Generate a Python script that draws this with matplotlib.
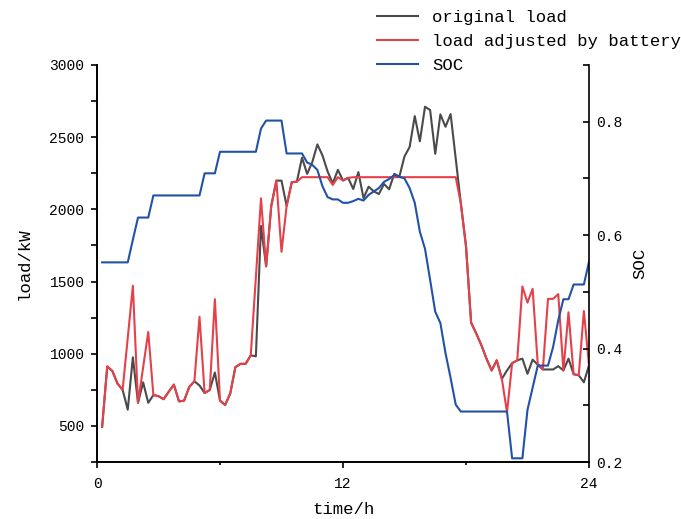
import numpy as np
import matplotlib
matplotlib.use("Agg")
import matplotlib.pyplot as plt
from matplotlib.ticker import MultipleLocator

# quarter-hour samples, 0.25 h ... 24 h
hours = np.arange(1, 97) * 0.25

original_load = [
    493, 912, 880, 793,
    750, 612, 975, 660,
    802, 660, 714, 706,
    685, 737, 786, 670,
    675, 770, 809, 780,
    728, 749, 870, 675,
    645, 725, 907, 930,
    930, 989, 982, 1885,
    1605, 2024, 2199, 2199,
    2024, 2188, 2192, 2358,
    2246, 2327, 2450, 2373,
    2262, 2180, 2274, 2200,
    2218, 2141, 2258, 2078,
    2157, 2125, 2106, 2176,
    2139, 2246, 2227, 2367,
    2432, 2646, 2471, 2711,
    2688, 2385, 2658, 2572,
    2660, 2350, 2040, 1745,
    1215, 1140, 1059, 966,
    884, 954, 826, 884,
    935, 954, 966, 861,
    959, 924, 891, 891,
    891, 914, 884, 966,
    858, 851, 802, 920,
]

adjusted_load = [
    493, 912, 880, 793,
    750, 1110, 1471, 660,
    905, 1151, 714, 706,
    685, 737, 786, 670,
    675, 770, 809, 1256,
    728, 749, 1378, 675,
    645, 725, 907, 930,
    930, 989, 1530, 2076,
    1605, 2024, 2199, 1706,
    2024, 2188, 2192, 2223,
    2223, 2223, 2223, 2223,
    2223, 2169, 2223, 2200,
    2218, 2223, 2223, 2223,
    2223, 2223, 2223, 2223,
    2223, 2223, 2223, 2223,
    2223, 2223, 2223, 2223,
    2223, 2223, 2223, 2223,
    2223, 2223, 2040, 1745,
    1215, 1140, 1059, 966,
    884, 954, 826, 593,
    935, 954, 1466, 1354,
    1450, 930, 891, 1380,
    1380, 1413, 884, 1287,
    858, 851, 1296, 920,
]

soc = [
    0.552, 0.552, 0.552, 0.552,
    0.552, 0.552, 0.592, 0.631,
    0.631, 0.631, 0.670, 0.670,
    0.670, 0.670, 0.670, 0.670,
    0.670, 0.670, 0.670, 0.670,
    0.709, 0.709, 0.709, 0.747,
    0.747, 0.747, 0.747, 0.747,
    0.747, 0.747, 0.747, 0.788,
    0.802, 0.802, 0.802, 0.802,
    0.744, 0.744, 0.744, 0.744,
    0.728, 0.724, 0.715, 0.686,
    0.667, 0.663, 0.663, 0.657,
    0.657, 0.660, 0.664, 0.661,
    0.671, 0.677, 0.683, 0.694,
    0.699, 0.706, 0.703, 0.700,
    0.683, 0.657, 0.606, 0.576,
    0.521, 0.465, 0.445, 0.392,
    0.348, 0.301, 0.289, 0.289,
    0.289, 0.289, 0.289, 0.289,
    0.289, 0.289, 0.289, 0.289,
    0.2065, 0.2065, 0.2065, 0.292,
    0.331, 0.370, 0.370, 0.370,
    0.403, 0.450, 0.487, 0.487,
    0.513, 0.513, 0.513, 0.553,
]

plt.rcParams["font.family"] = ["Liberation Mono", "DejaVu Sans Mono"]

fig = plt.figure(figsize=(6.81, 5.19), dpi=100)
ax = fig.add_axes([97 / 681, 1 - 462 / 519, (589 - 97) / 681, (462 - 65) / 519])
ax2 = ax.twinx()

l1, = ax.plot(hours, original_load, color="#4a4a4a", lw=1.5, label="original load")
l2, = ax.plot(hours, adjusted_load, color="#e5414b", lw=1.5, label="load adjusted by battery")
l3, = ax2.plot(hours, soc, color="#2152a8", lw=1.5, label="SOC")

ax.set_xlim(0, 24)
ax.set_ylim(250, 3000)
ax2.set_ylim(0.2, 0.9)

ax.set_xticks([0, 12, 24])
ax.xaxis.set_minor_locator(MultipleLocator(6))
ax.yaxis.set_major_locator(MultipleLocator(500))
ax.yaxis.set_minor_locator(MultipleLocator(250))
ax2.yaxis.set_major_locator(MultipleLocator(0.2))
ax2.yaxis.set_minor_locator(MultipleLocator(0.1))
ax2.set_yticks([0.2, 0.4, 0.6, 0.8])

for a in (ax, ax2):
    a.spines["top"].set_visible(False)
    for s in a.spines.values():
        s.set_linewidth(1.2)
ax.spines["right"].set_visible(False)

ax.tick_params(axis="x", which="major", direction="out", length=4, width=1.2,
               labelsize=10.5, pad=7)
ax.tick_params(axis="y", which="major", direction="out", length=4, width=1.2,
               labelsize=10.5, pad=5)
ax.tick_params(axis="y", which="minor", direction="out", length=4, width=1.2)
ax.tick_params(axis="x", which="minor", direction="out", length=2.5, width=1.2)
ax2.tick_params(axis="y", which="both", direction="in", length=4, width=1.2,
                labelsize=10.5, pad=5)

ax.set_xlabel("time/h", fontsize=12.5, labelpad=8)
ax.set_ylabel("load/kW", fontsize=12.5, labelpad=13)
ax2.set_ylabel("SOC", fontsize=12.5, labelpad=7)

fig.legend([l1, l2, l3], [l1.get_label(), l2.get_label(), l3.get_label()],
           loc="upper right", bbox_to_anchor=(1.023, 1.01), frameon=False,
           fontsize=12.4, handlelength=2.4, handletextpad=0.8, labelspacing=0.5)

fig.savefig("out.png", dpi=100)
